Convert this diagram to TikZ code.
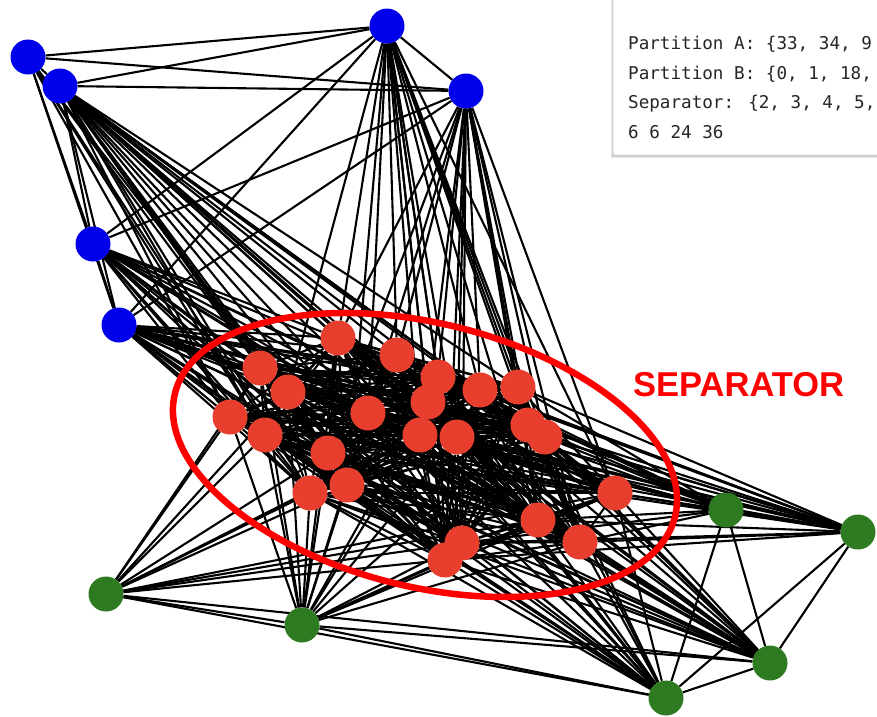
\documentclass[tikz,border=0pt]{standalone}
\usepackage{fontspec}
\newfontfamily\monof{DejaVu Sans Mono}
\newfontfamily\sepf{Liberation Sans}
\usetikzlibrary{backgrounds}
\definecolor{nblue}{RGB}{0,0,235}
\definecolor{nred}{RGB}{232,62,46}
\definecolor{ngreen}{RGB}{46,122,32}
\definecolor{ellred}{RGB}{255,0,0}
\pgfdeclarelayer{edges}
\pgfsetlayers{edges,main}
\tikzset{
  vtx/.style={circle, minimum size=35pt, inner sep=0pt, draw=none},
  bv/.style={vtx, fill=nblue},
  rv/.style={vtx, fill=nred},
  gv/.style={vtx, fill=ngreen},
  edge/.style={draw=black, line width=2.1pt},
  sepell/.style={draw=ellred, line width=6.5pt},
  infotext/.style={anchor=base west, inner sep=0pt, font=\monof\fontsize{17.6}{20}\selectfont, text=black!85},
  septext/.style={anchor=base west, inner sep=0pt, font=\sepf\bfseries\fontsize{34.5}{36}\selectfont, text=ellred}
}
\begin{document}
\begin{tikzpicture}[x=1pt,y=-1pt]
\useasboundingbox (0,0) rectangle (877,716);
% blue nodes (partition A)
\node[bv] (b1) at (28,57) {};
\node[bv] (b2) at (60,86) {};
\node[bv] (b3) at (387,26) {};
\node[bv] (b4) at (466,91) {};
\node[bv] (b5) at (93,244) {};
\node[bv] (b6) at (119,325) {};
% green nodes (partition B)
\node[gv] (g1) at (106,594) {};
\node[gv] (g2) at (302,625) {};
\node[gv] (g3) at (666,698) {};
\node[gv] (g4) at (770,663) {};
\node[gv] (g5) at (726,510) {};
\node[gv] (g6) at (858,532) {};
% red nodes (separator)
\node[rv] (r1) at (338,338) {};
\node[rv] (r2) at (397,355) {};
\node[rv] (r3) at (260,368) {};
\node[rv] (r4) at (288,392) {};
\node[rv] (r5) at (230,417) {};
\node[rv] (r6) at (265,435) {};
\node[rv] (r7) at (368,413) {};
\node[rv] (r8) at (328,453) {};
\node[rv] (r9) at (347,485) {};
\node[rv] (r10) at (310,493) {};
\node[rv] (r11) at (438,377) {};
\node[rv] (r12) at (428,402) {};
\node[rv] (r13) at (420,435) {};
\node[rv] (r14) at (457,437) {};
\node[rv] (r15) at (480,390) {};
\node[rv] (r16) at (518,387) {};
\node[rv] (r17) at (528,425) {};
\node[rv] (r18) at (545,437) {};
\node[rv] (r19) at (615,493) {};
\node[rv] (r20) at (538,520) {};
\node[rv] (r21) at (580,542) {};
\node[rv] (r22) at (462,543) {};
\node[rv] (r23) at (445,560) {};
\begin{pgfonlayer}{edges}
% blue-blue
\foreach \a/\b in {b1/b2,b1/b3,b1/b4,b1/b5,b1/b6,b2/b3,b2/b4,b2/b5,b2/b6,b3/b4,b3/b5,b3/b6,b4/b5,b4/b6,b5/b6}
  \draw[edge] (\a) -- (\b);
% green-green
\foreach \a/\b in {g1/g2,g1/g3,g1/g4,g2/g3,g2/g4,g3/g4,g3/g5,g3/g6,g4/g5,g4/g6,g5/g6}
  \draw[edge] (\a) -- (\b);
% outer to separator
\foreach \o/\lst in {
  b1/{3,5,6,10,4},
  b2/{1,2,3,4,5,6,7,8,9,10,11,12,13,14,15,16,17,18,19,20,21,22,23},
  b3/{1,2,4,7,9,11,12,13,14,15,16,17,18,19,20,21,22,23},
  b4/{1,2,7,8,11,12,14,15,16,17,18,19,20,21,22,23},
  b5/{1,3,4,5,6,7,8,9,10,12,13,14,17,19,20,21,22,23},
  b6/{1,2,3,4,5,6,7,8,9,10,11,12,13,14,15,16,17,18,19,20,21,22,23},
  g1/{1,3,5,6,8,9,10,13,19,20,22,23},
  g2/{1,3,4,5,6,7,8,9,10,12,13,14,17,19,20,21,22,23},
  g3/{1,2,3,4,6,7,8,9,10,12,13,14,16,17,19,20,21,22,23},
  g4/{1,3,4,5,6,7,8,9,10,11,12,13,14,15,17,18,19,20,21,22,23},
  g5/{2,4,7,11,12,13,14,15,16,17,18,19,20,21,22},
  g6/{1,3,5,7,8,11,12,13,14,15,16,17,18,19,20,21,22,23}}
  {\foreach \r in \lst {\draw[edge] (\o) -- (r\r);}}
% separator clique
\foreach \i in {1,...,22}{
  \pgfmathtruncatemacro\k{\i+1}
  \foreach \j in {\k,...,23}{\draw[edge] (r\i) -- (r\j);}
}
\end{pgfonlayer}
% separator ellipse
\coordinate (ec) at (425,455);
\draw[sepell, rotate around={-13.8:(ec)}] (ec) ellipse [x radius=257.5, y radius=131.8];
\node[septext] (sep) at (633,396) {SEPARATOR};
% info box
\fill[black!10] (611,-10) rectangle (882,158);
\fill[black!18] (612,-10) rectangle (880,157);
\node[draw=black!15, fill=white, rounded corners=2pt, minimum width=280pt, minimum height=165pt, anchor=south west, inner sep=0pt] (box) at (613,155) {};
\node[infotext] (l1) at (628,49) {Partition A: \{33, 34, 9};
\node[infotext] (l2) at (628,79) {Partition B: \{0, 1, 18,};
\node[infotext] (l3) at (628,108) {Separator: \{2, 3, 4, 5,};
\node[infotext] (l4) at (628,138) {6 6 24 36};
\end{tikzpicture}
\end{document}
